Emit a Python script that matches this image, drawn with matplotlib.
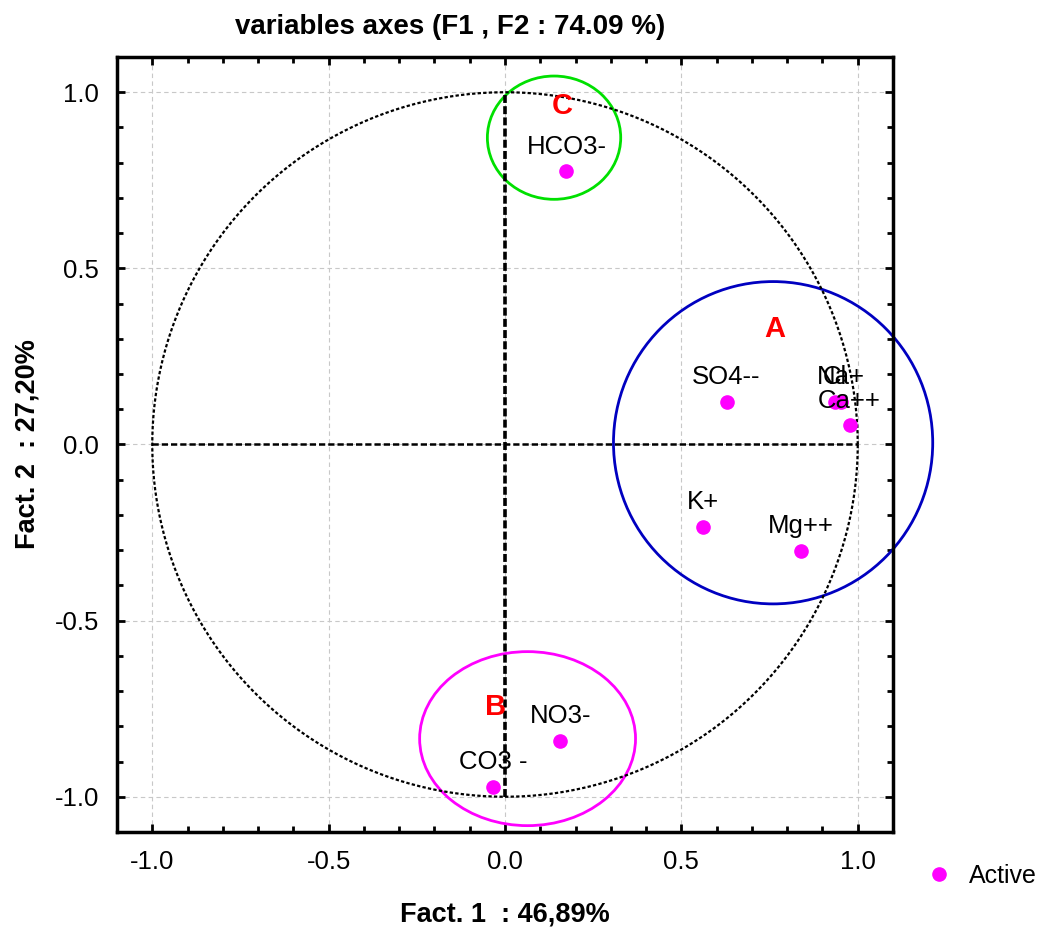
import matplotlib
matplotlib.use("Agg")
import matplotlib.pyplot as plt
import numpy as np
from matplotlib.patches import Ellipse
from matplotlib.ticker import MultipleLocator, FormatStrFormatter

plt.rcParams['font.family'] = ['Liberation Sans', 'DejaVu Sans']

# variables (coordinates on F1, F2)
names = ["HCO3-", "SO4--", "Cl", "Na+", "Ca++", "K+", "Mg++", "NO3-", "CO3 -"]
f1 = [0.174, 0.628, 0.935, 0.952, 0.977, 0.560, 0.838, 0.157, -0.033]
f2 = [0.776, 0.122, 0.122, 0.122, 0.054, -0.233, -0.301, -0.841, -0.972]

# groups drawn as ellipses
groups = ["A", "B", "C"]
grp_cx = [0.760, 0.064, 0.139]
grp_cy = [0.005, -0.835, 0.871]
grp_w = [0.905, 0.612, 0.378]
grp_h = [0.915, 0.494, 0.350]
grp_col = ["#0000c0", "#ff00ff", "#00e000"]
lab_x = [0.766, -0.027, 0.163]
lab_y = [0.327, -0.744, 0.960]

fig = plt.figure(figsize=(10.51, 9.27), dpi=100)
ax = fig.add_axes([0.1113, 0.1025, 0.7384, 0.836])

ax.set_xlim(-1.1, 1.1)
ax.set_ylim(-1.1, 1.1)
ax.grid(True, color="#c8c8c8", linestyle=(0, (4, 3)), linewidth=0.8)
ax.set_axisbelow(True)

# unit circle
t = np.linspace(0, 2 * np.pi, 400)
ax.plot(np.cos(t), np.sin(t), color="black", linestyle=(0, (1.5, 1)), linewidth=1.6)

# axes through origin
ax.plot([0, 0], [-1, 1], color="black", linestyle=(0, (2.2, 0.9)), linewidth=2.6)
ax.plot([-1, 1], [0, 0], color="black", linestyle=(0, (2.5, 1.2)), linewidth=1.8)

for cx, cy, w, h, c in zip(grp_cx, grp_cy, grp_w, grp_h, grp_col):
    ax.add_patch(Ellipse((cx, cy), w, h, fill=False, edgecolor=c, linewidth=2, clip_on=False))

for g, x, y in zip(groups, lab_x, lab_y):
    ax.text(x, y, g, color="#ff0000", fontsize=21, fontweight="bold", ha="center", va="center")

ax.plot(f1, f2, "o", color="#ff00ff", markersize=9.5, linestyle="none", label="Active")
for n, x, y in zip(names, f1, f2):
    ax.annotate(n, (x, y), xytext=(0, 9), textcoords="offset points",
                ha="center", va="bottom", fontsize=18.5)

ax.xaxis.set_major_locator(MultipleLocator(0.5))
ax.yaxis.set_major_locator(MultipleLocator(0.5))
ax.xaxis.set_minor_locator(MultipleLocator(0.1))
ax.yaxis.set_minor_locator(MultipleLocator(0.1))
ax.tick_params(which="both", direction="in", top=True, right=True, width=2)
ax.tick_params(which="major", length=6, labelsize=18.5, pad=13)
ax.tick_params(which="minor", length=4)
ax.xaxis.set_major_formatter(FormatStrFormatter("%.1f"))
ax.yaxis.set_major_formatter(FormatStrFormatter("%.1f"))
for s in ax.spines.values():
    s.set_linewidth(2.5)

ax.set_xlabel("Fact. 1  : 46,89%", fontsize=19.5, fontweight="bold", labelpad=20)
ax.set_ylabel("Fact. 2  : 27,20%", fontsize=19.5, fontweight="bold", labelpad=10)

fig.text(450 / 1051, 1 - 27 / 927, "variables axes (F1 , F2 : 74.09 %)",
         fontsize=20, fontweight="bold", ha="center", va="center")

fig.legend(loc="center left", bbox_to_anchor=(904 / 1051, 1 - 876 / 927), frameon=False,
           fontsize=18, handlelength=1.0, handletextpad=0.7, markerscale=1.0)

fig.savefig("out.png", dpi=100)
